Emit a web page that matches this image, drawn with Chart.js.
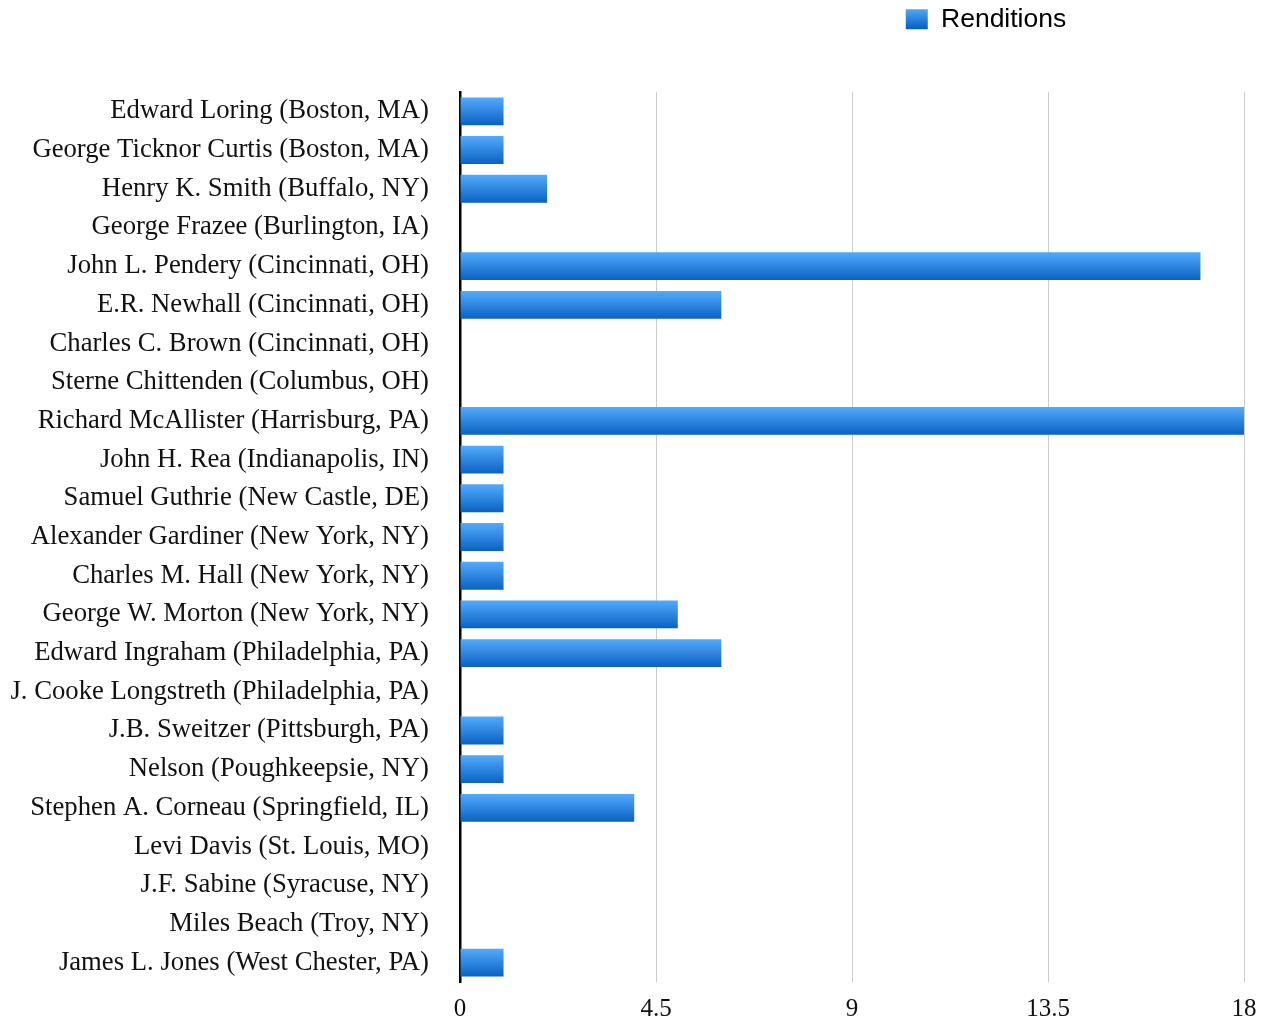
<!DOCTYPE html>
<html>
<head>
<meta charset="utf-8">
<script src="https://cdn.jsdelivr.net/npm/chart.js@4"></script>
<style>
  html, body { margin: 0; padding: 0; background: #fff; }
  #wrap { width: 1272px; height: 1022px; position: relative; }
</style>
</head>
<body>
<div id="wrap"><canvas id="chart"></canvas></div>
<script>
// Renditions by commissioner
const commissioners = [
  "Edward Loring (Boston, MA)",
  "George Ticknor Curtis (Boston, MA)",
  "Henry K. Smith (Buffalo, NY)",
  "George Frazee (Burlington, IA)",
  "John L. Pendery (Cincinnati, OH)",
  "E.R. Newhall (Cincinnati, OH)",
  "Charles C. Brown (Cincinnati, OH)",
  "Sterne Chittenden (Columbus, OH)",
  "Richard McAllister (Harrisburg, PA)",
  "John H. Rea (Indianapolis, IN)",
  "Samuel Guthrie (New Castle, DE)",
  "Alexander Gardiner (New York, NY)",
  "Charles M. Hall (New York, NY)",
  "George W. Morton (New York, NY)",
  "Edward Ingraham (Philadelphia, PA)",
  "J. Cooke Longstreth (Philadelphia, PA)",
  "J.B. Sweitzer (Pittsburgh, PA)",
  "Nelson (Poughkeepsie, NY)",
  "Stephen A. Corneau (Springfield, IL)",
  "Levi Davis (St. Louis, MO)",
  "J.F. Sabine (Syracuse, NY)",
  "Miles Beach (Troy, NY)",
  "James L. Jones (West Chester, PA)"
];
const renditions = [1, 1, 2, 0, 17, 6, 0, 0, 18, 1, 1, 1, 1, 5, 6, 0, 1, 1, 4, 0, 0, 0, 1];
const xTicks = [0, 4.5, 9, 13.5, 18];

const BAR_FRAC = 0.72;
const TOP_BLUE = "#54aafb";
const BOTTOM_BLUE = "#0962c4";

function barGradient(c) {
  const chart = c.chart;
  const y = chart.scales && chart.scales.y;
  if (!chart.chartArea || !y) return "#2a86e0";
  const center = y.getPixelForValue(c.dataIndex);
  const half = (y.height / commissioners.length) * BAR_FRAC / 2;
  const g = chart.ctx.createLinearGradient(0, center - half, 0, center + half);
  g.addColorStop(0, TOP_BLUE);
  g.addColorStop(1, BOTTOM_BLUE);
  return g;
}

// push the legend toward the right and leave room under it
const legendShift = {
  id: "legendShift",
  beforeInit(chart) {
    const fit = chart.legend.fit;
    chart.legend.fit = function () {
      fit.call(this);
      this.height = 92;
    };
  },
  afterLayout(chart) {
    chart.legend.left += 364;
    chart.legend.right += 364;
  }
};

new Chart(document.getElementById("chart"), {
  type: "bar",
  data: {
    labels: commissioners,
    datasets: [{
      label: "Renditions",
      data: renditions,
      backgroundColor: barGradient,
      barPercentage: BAR_FRAC,
      categoryPercentage: 1
    }]
  },
  options: {
    indexAxis: "y",
    responsive: true,
    maintainAspectRatio: false,
    animation: false,
    layout: { padding: { right: 28, bottom: 0 } },
    scales: {
      x: {
        min: 0,
        max: 18,
        afterBuildTicks: (scale) => { scale.ticks = xTicks.map(v => ({ value: v })); },
        afterFit: (scale) => { scale.height = 40; },
        ticks: {
          padding: 12,
          color: "#111",
          font: { family: "'Liberation Serif', 'Times New Roman', serif", size: 25 },
          callback: (v) => String(v)
        },
        grid: { color: "#cccccc", lineWidth: 1, drawTicks: false },
        border: { display: false }
      },
      y: {
        afterFit: (scale) => {
          scale.width = 460;
          scale.paddingTop = 0;
          scale.paddingBottom = 0;
        },
        ticks: {
          padding: 31,
          color: "#111",
          font: { family: "'Liberation Serif', 'Times New Roman', serif", size: 26.7, lineHeight: 1 }
        },
        grid: { display: false, drawTicks: false },
        border: { display: true, color: "#000", width: 2.5 }
      }
    },
    plugins: {
      legend: {
        position: "top",
        align: "center",
        labels: {
          boxWidth: 22,
          boxHeight: 20,
          padding: 6,
          color: "#111",
          font: { family: "'Liberation Sans', Arial, sans-serif", size: 26.5 },
          generateLabels: (chart) => {
            const g = chart.ctx.createLinearGradient(0, 8, 0, 28);
            g.addColorStop(0, TOP_BLUE);
            g.addColorStop(1, BOTTOM_BLUE);
            return [{ text: "Renditions", fillStyle: g, strokeStyle: "rgba(0,0,0,0)", lineWidth: 0, datasetIndex: 0 }];
          }
        }
      },
      tooltip: { enabled: false }
    }
  },
  plugins: [legendShift]
});
</script>
</body>
</html>
